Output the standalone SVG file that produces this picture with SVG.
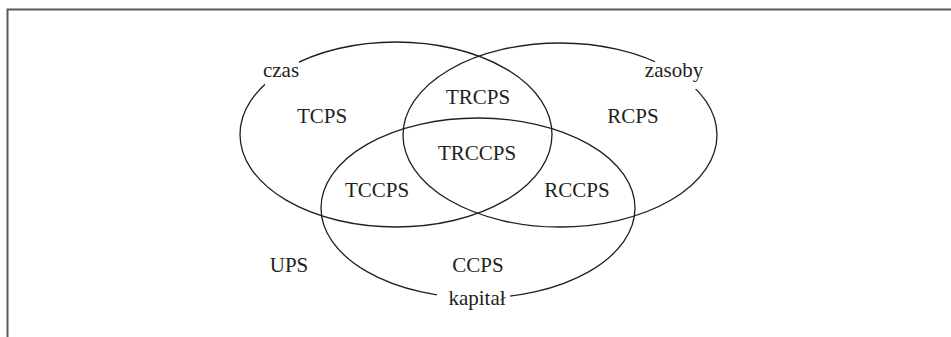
<svg xmlns="http://www.w3.org/2000/svg" width="951" height="337" viewBox="0 0 951 337">
<style>
.set{fill:none;stroke:#231f20;stroke-width:1.3}
.lbl{font-family:"Liberation Serif","Times New Roman",serif;font-size:21px;fill:#231f20;text-anchor:middle}
.bg{fill:#ffffff;stroke:none}
</style>
<rect width="951" height="337" fill="#ffffff"/>
<path d="M7.5,337 V9.5 H951" fill="none" stroke="#5a5a5a" stroke-width="2"/>
<g id="connectors">
<ellipse id="set-czas" class="set" cx="396" cy="134.5" rx="156" ry="92.5"/>
<ellipse id="set-zasoby" class="set" cx="560" cy="135" rx="157" ry="92"/>
<ellipse id="set-kapital" class="set" cx="478" cy="208" rx="157" ry="90"/>
</g>
<g id="label-czas"><rect class="bg" x="265" y="61" width="34" height="26"/><text class="lbl" x="281" y="77">czas</text></g>
<g id="label-zasoby"><rect class="bg" x="655" y="61" width="44" height="28"/><text class="lbl" x="674" y="77">zasoby</text></g>
<g id="label-kapital"><rect class="bg" x="437" y="288" width="73" height="17"/><text class="lbl" x="477" y="305">kapitał</text></g>
<g id="node-TCPS"><text class="lbl" x="322" y="123">TCPS</text></g>
<g id="node-TRCPS"><text class="lbl" x="478" y="104">TRCPS</text></g>
<g id="node-RCPS"><text class="lbl" x="633" y="123">RCPS</text></g>
<g id="node-TRCCPS"><text class="lbl" x="477" y="160">TRCCPS</text></g>
<g id="node-TCCPS"><text class="lbl" x="377" y="197">TCCPS</text></g>
<g id="node-RCCPS"><text class="lbl" x="577" y="197">RCCPS</text></g>
<g id="node-UPS"><text class="lbl" x="289" y="272">UPS</text></g>
<g id="node-CCPS"><text class="lbl" x="478" y="272">CCPS</text></g>
</svg>
